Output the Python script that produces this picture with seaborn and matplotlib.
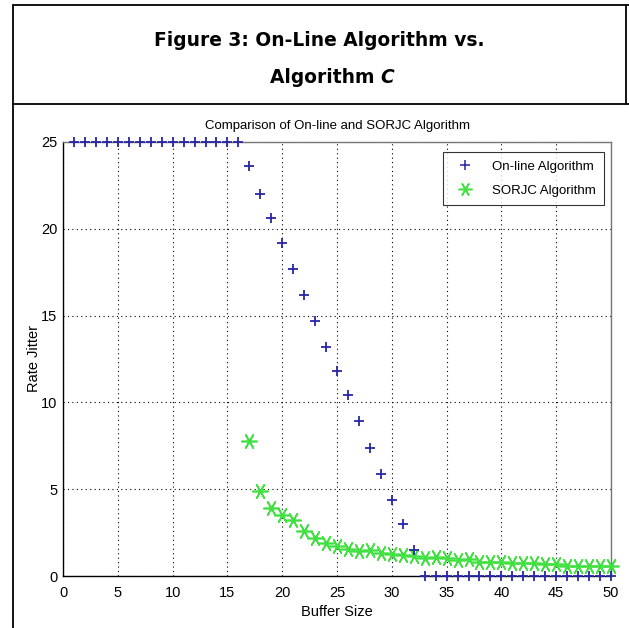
import numpy as np
import pandas as pd
import matplotlib
matplotlib.use("Agg")
import matplotlib.pyplot as plt
import seaborn as sns
from matplotlib.lines import Line2D

# data
buffer_size = list(range(1, 51))
online_jitter = [25] * 16 + [23.6, 22.0, 20.6, 19.2, 17.7, 16.2, 14.7, 13.2, 11.8,
                             10.4, 8.9, 7.4, 5.9, 4.4, 3.0, 1.5] + [0] * 18
sorjc_x = list(range(17, 51))
sorjc_jitter = [7.8, 4.9, 3.9, 3.5, 3.2, 2.6, 2.2, 1.9, 1.7, 1.55, 1.45, 1.5, 1.35,
                1.27, 1.2, 1.17, 1.03, 1.1, 1.03, 0.93, 0.96, 0.83, 0.83, 0.83,
                0.74, 0.74, 0.74, 0.72, 0.72, 0.6, 0.6, 0.6, 0.6, 0.6]

online_df = pd.DataFrame({"Buffer Size": buffer_size, "Rate Jitter": online_jitter})
sorjc_df = pd.DataFrame({"Buffer Size": sorjc_x, "Rate Jitter": sorjc_jitter})

blue = "#2626a6"
green = "#3fe03f"
asterisk = (6, 2, 90)

sns.set_style("white")
plt.rcParams["font.family"] = ["Liberation Sans", "DejaVu Sans"]
plt.rcParams["text.color"] = "black"
plt.rcParams["axes.labelcolor"] = "black"
plt.rcParams["xtick.color"] = "black"
plt.rcParams["ytick.color"] = "black"

fig = plt.figure(figsize=(6.29, 6.28), dpi=100)
ax = fig.add_axes([0.1002, 0.0828, 0.8712, 0.6911])

sns.scatterplot(data=sorjc_df, x="Buffer Size", y="Rate Jitter", marker=asterisk,
                color=green, s=120, linewidth=1.2, ax=ax, clip_on=False, zorder=3)
sns.scatterplot(data=online_df, x="Buffer Size", y="Rate Jitter", marker="+",
                color=blue, s=45, linewidth=1.3, ax=ax, clip_on=False, zorder=4)

ax.set_xlim(0, 50)
ax.set_ylim(0, 25)
ax.set_xticks(range(0, 51, 5))
ax.set_yticks(range(0, 26, 5))
ax.grid(True, color="black", linestyle=(0, (1, 3)), linewidth=0.8)
ax.tick_params(direction="in", length=4, labelsize=10.5, color="#444444")
ax.tick_params(axis="x", pad=7)
ax.tick_params(axis="y", pad=4)
for side in ["top", "right"]:
    ax.spines[side].set_color("#777777")
for side in ["left", "bottom"]:
    ax.spines[side].set_color("black")
for sp in ax.spines.values():
    sp.set_linewidth(1.0)
ax.set_title("Comparison of On-line and SORJC Algorithm", fontsize=9.5, pad=9)
ax.set_xlabel("Buffer Size", fontsize=10.5, labelpad=4)
ax.set_ylabel("Rate Jitter", fontsize=10.5)
ax.yaxis.set_label_coords(-0.04, 0.5)

handles = [
    Line2D([], [], linestyle="", marker="+", color=blue, markersize=7, markeredgewidth=1.1),
    Line2D([], [], linestyle="", marker=asterisk, color=green, markersize=10, markeredgewidth=1.1),
]
leg = ax.legend(handles, ["On-line Algorithm", "SORJC Algorithm"], loc="upper right",
                bbox_to_anchor=(0.987, 0.977), borderaxespad=0, fontsize=9.5,
                frameon=True, fancybox=False, edgecolor="black", handletextpad=1.0,
                borderpad=0.65, labelspacing=0.9)
leg.get_frame().set_linewidth(0.8)

# header box and title
title_font = ["DejaVu Sans"]
title_size = 13.4
cx = 0.507
fig.text(cx, 0.936, "Figure 3: On-Line Algorithm vs.", ha="center", va="center",
         fontsize=title_size, fontweight="bold", family=title_font)
t2 = fig.text(cx, 0.877, "Algorithm ", ha="right", va="center",
              fontsize=title_size, fontweight="bold", family=title_font)
fig.canvas.draw()
w = t2.get_window_extent().width
x_split = cx + w / 2 / fig.bbox.width + 0.01
t2.set_position((x_split, 0.877))
fig.text(x_split, 0.877, "C", ha="left", va="center",
         fontsize=title_size, fontweight="bold", style="italic", family=title_font)

frame_kw = dict(color="black", linewidth=1.3, transform=fig.transFigure)
fig.add_artist(Line2D([13 / 629, 13 / 629], [0, 1 - 5 / 628], **frame_kw))
fig.add_artist(Line2D([13 / 629, 1], [1 - 5 / 628, 1 - 5 / 628], **frame_kw))
fig.add_artist(Line2D([13 / 629, 1], [1 - 104 / 628, 1 - 104 / 628], **frame_kw))
fig.add_artist(Line2D([626 / 629, 626 / 629], [1 - 104 / 628, 1 - 5 / 628], **frame_kw))

fig.savefig("out.png", dpi=100)
